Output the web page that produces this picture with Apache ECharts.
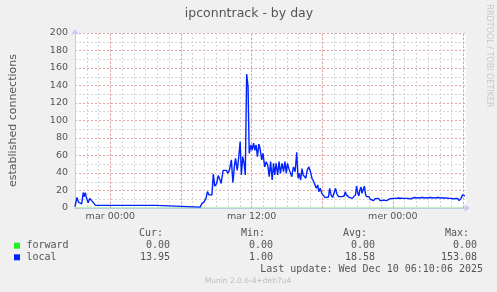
<!DOCTYPE html>
<html><head><meta charset="utf-8">
<script src="https://cdn.jsdelivr.net/npm/echarts@6/dist/echarts.min.js"></script>
<style>html,body{margin:0;padding:0;background:#f0f0f0;}#c{width:497px;height:292px;}</style>
</head><body><div id="c"></div>
<script>
const chartTitle = 'ipconntrack - by day';
const yAxisName = 'established connections';
const watermark = 'RRDTOOL / TOBI OETIKER';
const footer = 'Munin 2.0.6-4+deb7u4';
const lastUpdate = 'Last update: Wed Dec 10 06:10:06 2025';
const xTickValues = [0, 720, 1440];
const xTickLabels = ['mar 00:00', 'mar 12:00', 'mer 00:00'];
const xMajorGrid = [0, 360, 720, 1080, 1440, 1800];
const seriesNames = ['forward', 'local'];
const seriesColors = ['#22ee22', '#0022ff'];
const statHeaders = ['Cur:', 'Min:', 'Avg:', 'Max:'];
const statCur = ['0.00', '13.95'];
const statMin = ['0.00', '1.00'];
const statAvg = ['0.00', '18.58'];
const statMax = ['0.00', '153.08'];

// minutes relative to Tuesday 00:00
const forwardMinutes = [-180, 1813];
const forwardValues = [0, 0];
const localMinutes = [-180,-170,-163,-153,-146,-138,-133,-128,-121,-113,-105,-98,-90,-83,-75,-15,-8,5,235,238,458,467,478,488,495,503,512,518,525,532,542,550,558,565,575,583,592,600,608,617,625,632,638,647,655,662,668,675,682,688,695,702,708,717,723,730,737,743,750,757,763,772,778,787,795,803,810,817,825,832,838,845,853,860,867,875,883,890,897,903,910,917,925,933,942,950,957,963,970,977,983,990,997,1003,1012,1020,1028,1037,1043,1050,1057,1063,1070,1078,1087,1095,1103,1112,1118,1125,1133,1142,1148,1155,1163,1172,1180,1192,1198,1203,1208,1217,1225,1233,1242,1250,1255,1262,1267,1272,1278,1283,1288,1295,1300,1305,1312,1318,1325,1333,1342,1350,1358,1367,1375,1383,1392,1400,1408,1417,1425,1433,1442,1450,1458,1470,1480,1490,1500,1510,1520,1530,1540,1550,1560,1570,1580,1590,1600,1610,1620,1630,1640,1650,1660,1670,1680,1690,1700,1710,1720,1730,1740,1750,1760,1770,1778,1788,1795,1802,1808];
const localValues = [1.5,12,7,7,4.6,17.5,13,17.5,11,6,11,10,7,5,3,3,4.6,3,3,1,1,5,7,11,18.7,15,13,15,38.9,25,28,37,32.8,28,43,41.5,43,39.6,44,55,29,47,56.7,43,58.7,75.8,37.7,58.7,51,37.7,153.08,138.7,62.5,72,66.3,74,66,72,58.7,73,68,55,62.5,47,53,48,35.8,53,32,51,37.7,51,37.7,53,39.6,51,41.5,53,39.6,51,45,43,35.8,47,41.5,63.6,34,39.6,32,45,37.7,39.6,34,43,47,41.5,34,30,32,22.5,26.3,18.7,22.5,16.8,15,11.8,11.8,12.5,22.5,15,12,12,22.5,16,13,14,13,13.7,18.7,15,13,12.2,13.7,11,12,15,25,16.8,13.7,20.6,24,16.8,20.6,25,16.8,13,11,13,10,11,8.4,10.7,9,11,8.4,10,9,10,8.4,10,10.5,9,11,12.2,11,11.5,10.5,11,12,11,11.5,10.5,11.5,12,11,11.5,11,12,10.5,11.5,11,12,11,11.5,10.5,12,11,11.5,10.5,11.5,10,11,11.5,10.5,11.5,11,8.4,11,15,13,13.95];

const zip = (a, b) => a.map((v, i) => [v, b[i]]);
const MAJ = '#eaa0a0', MIN = '#d4d4d4', AX = '#c8c8ff';
const mono = '10px "DejaVu Sans Mono"';
const txt = '#555';

const graphics = [];
graphics.push({type:'text', x:249, y:13.5, style:{text:chartTitle, font:'12.5px "DejaVu Sans"', fill:txt, align:'center', verticalAlign:'middle'}});
graphics.push({type:'text', x:489, y:56, rotation:-Math.PI/2, style:{text:watermark, font:'8px "DejaVu Sans"', fill:'#c8c8c8', align:'center', verticalAlign:'middle'}});
const colRight = [163, 265, 367, 469];
const valRight = [170, 273, 375, 477];
statHeaders.forEach((h, i) => graphics.push({type:'text', x:colRight[i], y:233, style:{text:h, font:mono, fill:txt, align:'right', verticalAlign:'middle'}}));
const rowsY = [245.7, 257.3];
const stats = [statCur, statMin, statAvg, statMax];
seriesNames.forEach((n, r) => {
  graphics.push({type:'rect', shape:{x:14, y:rowsY[r]-3, width:6, height:6}, style:{fill:seriesColors[r]}});
  graphics.push({type:'text', x:26.5, y:rowsY[r], style:{text:n, font:mono, fill:txt, align:'left', verticalAlign:'middle'}});
  stats.forEach((s, i) => graphics.push({type:'text', x:valRight[i], y:rowsY[r], style:{text:s[r], font:mono, fill:txt, align:'right', verticalAlign:'middle'}}));
});
graphics.push({type:'text', x:483, y:269.3, style:{text:lastUpdate, font:mono, fill:txt, align:'right', verticalAlign:'middle'}});
graphics.push({type:'text', x:248, y:281, style:{text:footer, font:'7.5px "DejaVu Sans"', fill:'#bdbdbd', align:'center', verticalAlign:'middle'}});

const chart = echarts.init(document.getElementById('c'), null, {renderer:'canvas'});
chart.setOption({
  backgroundColor:'#f0f0f0',
  animation:false,
  grid:{left:67, right:31, top:33, bottom:84, show:true, backgroundColor:'#ffffff', borderWidth:0},
  xAxis:{
    type:'value', min:-180, max:1813, interval:60,
    axisLine:{show:true, onZero:false, lineStyle:{color:AX, width:1}, symbol:['none','arrow'], symbolSize:[6,6], symbolOffset:[0,4]},
    axisTick:{show:false},
    axisLabel:{margin:4, fontSize:9.5, fontFamily:'DejaVu Sans', color:txt,
      formatter:(v) => { const k = xTickValues.indexOf(v); return k >= 0 ? xTickLabels[k] : ''; }},
    splitLine:{show:true, showMaxLine:false, lineStyle:{color:MIN, type:[2,2], width:1}}
  },
  yAxis:{
    type:'value', min:0, max:200, interval:10,
    name:yAxisName, nameLocation:'middle', nameGap:56, nameRotate:90,
    nameTextStyle:{fontSize:11, fontFamily:'DejaVu Sans', color:txt},
    axisLine:{show:true, onZero:false, lineStyle:{color:AX, width:1}, symbol:['none','arrow'], symbolSize:[6,6], symbolOffset:[0,4]},
    axisTick:{show:false},
    axisLabel:{margin:7, fontSize:9.5, fontFamily:'DejaVu Sans', color:txt,
      formatter:(v) => (v % 20 === 0 ? String(v) : '')},
    splitLine:{show:true, lineStyle:{color:[MAJ,MIN], type:[2,2], width:1}}
  },
  series:[
    {name:seriesNames[0], type:'line', data:zip(forwardMinutes, forwardValues), symbol:'none', silent:true,
     lineStyle:{color:'#80e080', width:1}, z:3,
     markLine:{silent:true, symbol:'none', label:{show:false}, animation:false, z:1,
       lineStyle:{color:MAJ, type:[2,2], width:1},
       data:xMajorGrid.map(v => ({xAxis:v}))}},
    {name:seriesNames[1], type:'line', data:zip(localMinutes, localValues), symbol:'none', silent:true,
     lineStyle:{color:seriesColors[1], width:1.4}, z:4}
  ],
  graphic:graphics
});
</script></body></html>
